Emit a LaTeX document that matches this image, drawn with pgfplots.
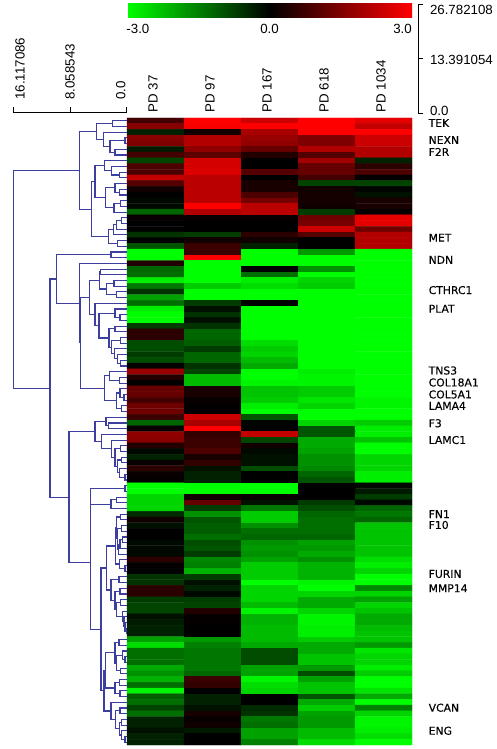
\documentclass[border=0pt]{standalone}
\usepackage{pgfplots}
\pgfplotsset{compat=1.18}
\usepackage{fontspec}
\setmainfont{Liberation Sans}
\newfontfamily\genefont[FakeBold=0.25]{DejaVu Sans}
\definecolor{den}{RGB}{60,62,160}
\pgfplotsset{colormap={gkr}{rgb255=(0,255,0) rgb255=(0,0,0) rgb255=(255,0,0)}}
\begin{document}
\begin{tikzpicture}[x=1pt,y=1pt]
\path[use as bounding box] (0,0) rectangle (496,749);
% heat map with its colour bar
\begin{axis}[at={(127pt,631pt)},anchor=north west,scale only axis,width=285pt,height=627pt,
 xmin=-0.5,xmax=4.5,ymin=0.5,ymax=110.5,y dir=reverse,clip=false,
 colormap name=gkr,point meta min=-3,point meta max=3,
 axis line style={draw=none},major tick length=0pt,
 xtick={0,1,2,3,4},xticklabels={PD 37,PD 97,PD 167,PD 618,PD 1034},xticklabel pos=top,
 xticklabel style={rotate=90,anchor=west,inner sep=0pt,font=\fontsize{13.3}{14}\selectfont,xshift=5.5pt,yshift=2.5pt},
 ytick={1.38,4.36,6.46,21.5,25.4,30.7,33.96,44.8,46.9,49.0,51.0,54.06,57,70,71.9,80.5,83,103.96,108},
 yticklabels={TEK,NEXN,F2R,MET,NDN,CTHRC1,PLAT,TNS3,COL18A1,COL5A1,LAMA4,F3,LAMC1,FN1,F10,FURIN,MMP14,VCAN,ENG},
 yticklabel pos=right,
 yticklabel style={anchor=west,inner sep=0pt,font=\genefont\fontsize{10.8}{12}\selectfont,xshift=16.5pt},
 colorbar horizontal,
 colorbar style={at={(0,1.16)},anchor=south west,scale only axis,width=285pt,height=15pt,
  axis line style={draw=none},major tick length=0pt,xtick={-2.77,0,2.8},xticklabels={-3.0,0.0,3.0},
  xticklabel style={rotate=0,anchor=north,font=\fontsize{13.3}{14}\selectfont,inner sep=0pt,xshift=0pt,yshift=-6pt}},
]
\addplot[matrix plot*,mesh/cols=5,point meta=explicit] coordinates {
(0,1)[0.8] (1,1)[3] (2,1)[2.4] (3,1)[3] (4,1)[2.7]
(0,2)[1.6] (1,2)[2.9] (2,2)[3] (3,2)[3] (4,2)[2.3]
(0,3)[-0.4] (1,3)[0.2] (2,3)[2.0] (3,3)[3] (4,3)[3]
(0,4)[1.6] (1,4)[2.1] (2,4)[1.8] (3,4)[1.5] (4,4)[2.4]
(0,5)[1.5] (1,5)[2.1] (2,5)[1.7] (3,5)[1.5] (4,5)[2.4]
(0,6)[-0.3] (1,6)[1.7] (2,6)[1.2] (3,6)[2.1] (4,6)[2.1]
(0,7)[0.8] (1,7)[1.1] (2,7)[0.4] (3,7)[1.0] (4,7)[2.1]
(0,8)[-0.8] (1,8)[2.5] (2,8)[0] (3,8)[1.9] (4,8)[-0.4]
(0,9)[0.9] (1,9)[2.5] (2,9)[0] (3,9)[1.2] (4,9)[0.5]
(0,10)[0.9] (1,10)[2.6] (2,10)[1.0] (3,10)[1.2] (4,10)[0.9]
(0,11)[2.3] (1,11)[2.2] (2,11)[0] (3,11)[0.8] (4,11)[0.05]
(0,12)[1.0] (1,12)[2.2] (2,12)[0.3] (3,12)[-0.8] (4,12)[-0.8]
(0,13)[0.2] (1,13)[2.2] (2,13)[0.3] (3,13)[0.2] (4,13)[-0.05]
(0,14)[0] (1,14)[2.2] (2,14)[0.9] (3,14)[0.25] (4,14)[-0.2]
(0,15)[-0.1] (1,15)[2.2] (2,15)[1.4] (3,15)[0.25] (4,15)[0.3]
(0,16)[-0.1] (1,16)[3.0] (2,16)[2.2] (3,16)[0.2] (4,16)[0.3]
(0,17)[-1.2] (1,17)[2.1] (2,17)[2.2] (3,17)[-0.7] (4,17)[0.05]
(0,18)[0.1] (1,18)[0.1] (2,18)[0.1] (3,18)[1.3] (4,18)[2.7]
(0,19)[0] (1,19)[0] (2,19)[0] (3,19)[1.4] (4,19)[2.7]
(0,20)[0] (1,20)[0] (2,20)[0] (3,20)[2.4] (4,20)[1.3]
(0,21)[-0.6] (1,21)[-0.7] (2,21)[0.5] (3,21)[1.0] (4,21)[2.1]
(0,22)[0] (1,22)[0.2] (2,22)[0.2] (3,22)[0] (4,22)[2.1]
(0,23)[-1] (1,23)[0.7] (2,23)[-0.4] (3,23)[0] (4,23)[2.1]
(0,24)[-3] (1,24)[0.7] (2,24)[-3] (3,24)[-1.8] (4,24)[-3]
(0,25)[-3] (1,25)[3] (2,25)[-3] (3,25)[-3] (4,25)[-3]
(0,26)[0.4] (1,26)[-3] (2,26)[-3] (3,26)[-3] (4,26)[-3]
(0,27)[-1.2] (1,27)[-3] (2,27)[0] (3,27)[-1.7] (4,27)[-3]
(0,28)[-1.3] (1,28)[-3] (2,28)[-1.3] (3,28)[-3] (4,28)[-3]
(0,29)[-2.8] (1,29)[-3] (2,29)[-2.8] (3,29)[-2.5] (4,29)[-3]
(0,30)[-1.4] (1,30)[-2.4] (2,30)[-2.6] (3,30)[-2.4] (4,30)[-3]
(0,31)[-0.6] (1,31)[-3] (2,31)[-3] (3,31)[-3] (4,31)[-3]
(0,32)[-1.9] (1,32)[-3] (2,32)[-3] (3,32)[-3] (4,32)[-3]
(0,33)[-1.3] (1,33)[-0.7] (2,33)[0] (3,33)[-3] (4,33)[-3]
(0,34)[-2.8] (1,34)[-0.2] (2,34)[-3] (3,34)[-3] (4,34)[-3]
(0,35)[-3] (1,35)[-0.6] (2,35)[-3] (3,35)[-3] (4,35)[-3]
(0,36)[-3] (1,36)[-0.2] (2,36)[-3] (3,36)[-3] (4,36)[-3]
(0,37)[-0.7] (1,37)[-0.6] (2,37)[-3] (3,37)[-3] (4,37)[-3]
(0,38)[0.5] (1,38)[-1.2] (2,38)[-3] (3,38)[-3] (4,38)[-3]
(0,39)[0.5] (1,39)[-1.2] (2,39)[-3] (3,39)[-3] (4,39)[-3]
(0,40)[-0.9] (1,40)[-1.1] (2,40)[-2.6] (3,40)[-3] (4,40)[-3]
(0,41)[-0.9] (1,41)[-0.7] (2,41)[-2.4] (3,41)[-3] (4,41)[-3]
(0,42)[-0.7] (1,42)[-1.2] (2,42)[-2.5] (3,42)[-3] (4,42)[-3]
(0,43)[-0.9] (1,43)[-1.2] (2,43)[-2.2] (3,43)[-3] (4,43)[-3]
(0,44)[0] (1,44)[-0.6] (2,44)[-2.0] (3,44)[-3] (4,44)[-3]
(0,45)[1.8] (1,45)[-0.8] (2,45)[-3] (3,45)[-2.8] (4,45)[-3]
(0,46)[0.4] (1,46)[-2.2] (2,46)[-3] (3,46)[-2.9] (4,46)[-3]
(0,47)[0] (1,47)[-2.2] (2,47)[-2.9] (3,47)[-2.9] (4,47)[-3]
(0,48)[1.2] (1,48)[0.3] (2,48)[-2.3] (3,48)[-2.4] (4,48)[-3]
(0,49)[1.2] (1,49)[0.3] (2,49)[-2.3] (3,49)[-2.4] (4,49)[-3]
(0,50)[0.8] (1,50)[0.1] (2,50)[-2.4] (3,50)[-2.7] (4,50)[-2.9]
(0,51)[1.3] (1,51)[0.05] (2,51)[-2.8] (3,51)[-2.5] (4,51)[-2.9]
(0,52)[1.3] (1,52)[0.05] (2,52)[-3] (3,52)[-3] (4,52)[-3]
(0,53)[0.7] (1,53)[2.4] (2,53)[-1] (3,53)[-3] (4,53)[-3]
(0,54)[-1.2] (1,54)[2.0] (2,54)[-0.05] (3,54)[-2.5] (4,54)[-2.4]
(0,55)[0.1] (1,55)[3] (2,55)[0] (3,55)[-1] (4,55)[-2.8]
(0,56)[1.7] (1,56)[0.6] (2,56)[2.3] (3,56)[-1] (4,56)[-2.8]
(0,57)[1.6] (1,57)[0.7] (2,57)[-0.8] (3,57)[-2] (4,57)[-2.3]
(0,58)[0.4] (1,58)[0.7] (2,58)[0.2] (3,58)[-2] (4,58)[-3]
(0,59)[-0.1] (1,59)[0.9] (2,59)[-0.1] (3,59)[-1.9] (4,59)[-3]
(0,60)[-0.4] (1,60)[0.3] (2,60)[-0.2] (3,60)[-1.7] (4,60)[-2.5]
(0,61)[0.1] (1,61)[0.6] (2,61)[-0.2] (3,61)[-1.7] (4,61)[-2.5]
(0,62)[0.5] (1,62)[-0.2] (2,62)[-0.9] (3,62)[-1.6] (4,62)[-2.5]
(0,63)[0.1] (1,63)[-0.4] (2,63)[0] (3,63)[-1.2] (4,63)[-2.8]
(0,64)[0.05] (1,64)[-0.4] (2,64)[0] (3,64)[-1] (4,64)[-2.8]
(0,65)[-3] (1,65)[-3] (2,65)[-3] (3,65)[0] (4,65)[-0.1]
(0,66)[-3] (1,66)[-3] (2,66)[-3] (3,66)[0] (4,66)[-0.3]
(0,67)[-2.5] (1,67)[0.2] (2,67)[0.1] (3,67)[0] (4,67)[-0.7]
(0,68)[-2.5] (1,68)[1.2] (2,68)[-0.2] (3,68)[-0.7] (4,68)[-0.1]
(0,69)[-2.5] (1,69)[-0.7] (2,69)[-1.4] (3,69)[-0.9] (4,69)[-1.2]
(0,70)[-0.5] (1,70)[-1.7] (2,70)[-2.4] (3,70)[-1.2] (4,70)[-1.4]
(0,71)[0.2] (1,71)[-1] (2,71)[-2.4] (3,71)[-1.3] (4,71)[-1.2]
(0,72)[-0.2] (1,72)[-1.1] (2,72)[-1.7] (3,72)[-1.3] (4,72)[-2.3]
(0,73)[0] (1,73)[-1.1] (2,73)[-1.3] (3,73)[-1.3] (4,73)[-2.3]
(0,74)[0] (1,74)[-1.3] (2,74)[-1.2] (3,74)[-1.2] (4,74)[-2.3]
(0,75)[-0.1] (1,75)[-0.9] (2,75)[-1.7] (3,75)[-1.9] (4,75)[-2.3]
(0,76)[-0.1] (1,76)[-1] (2,76)[-1.8] (3,76)[-1.8] (4,76)[-2.3]
(0,77)[-0.1] (1,77)[-0.7] (2,77)[-1.7] (3,77)[-2] (4,77)[-2.3]
(0,78)[0.5] (1,78)[-1.6] (2,78)[-1.9] (3,78)[-1.7] (4,78)[-2.6]
(0,79)[0.05] (1,79)[-1.5] (2,79)[-2.4] (3,79)[-2.1] (4,79)[-2.8]
(0,80)[0] (1,80)[-2.1] (2,80)[-2.4] (3,80)[-2.1] (4,80)[-2.5]
(0,81)[-0.6] (1,81)[-0.7] (2,81)[-2.4] (3,81)[-2.1] (4,81)[-3]
(0,82)[-0.6] (1,82)[-0.2] (2,82)[-3] (3,82)[-2.9] (4,82)[-3]
(0,83)[0.5] (1,83)[-0.4] (2,83)[-2.5] (3,83)[-3] (4,83)[-1.6]
(0,84)[0.5] (1,84)[-0.1] (2,84)[-2.5] (3,84)[-2.5] (4,84)[-2.5]
(0,85)[-0.7] (1,85)[-0.7] (2,85)[-2.5] (3,85)[-2] (4,85)[-1.9]
(0,86)[-0.8] (1,86)[-0.8] (2,86)[-2.2] (3,86)[-2] (4,86)[-2.5]
(0,87)[-0.8] (1,87)[0.4] (2,87)[-2.9] (3,87)[-2.5] (4,87)[-2.3]
(0,88)[-0.2] (1,88)[0.05] (2,88)[-2.1] (3,88)[-2.9] (4,88)[-2]
(0,89)[-0.3] (1,89)[0.05] (2,89)[-2.1] (3,89)[-2.9] (4,89)[-2]
(0,90)[-0.4] (1,90)[0] (2,90)[-2.2] (3,90)[-2.8] (4,90)[-2.2]
(0,91)[-0.4] (1,91)[0] (2,91)[-2.2] (3,91)[-2.8] (4,91)[-2.3]
(0,92)[-1.9] (1,92)[-1.8] (2,92)[-2.2] (3,92)[-2.4] (4,92)[-2.3]
(0,93)[-2.6] (1,93)[-1.5] (2,93)[-2] (3,93)[-2] (4,93)[-1.8]
(0,94)[-1.3] (1,94)[-1.4] (2,94)[-0.9] (3,94)[-2] (4,94)[-2.7]
(0,95)[-1.3] (1,95)[-1.4] (2,95)[-0.9] (3,95)[-2.3] (4,95)[-2.5]
(0,96)[-1.3] (1,96)[-1.4] (2,96)[-0.9] (3,96)[-2.3] (4,96)[-2.5]
(0,97)[-2] (1,97)[-1.4] (2,97)[-1.9] (3,97)[-1.8] (4,97)[-2.8]
(0,98)[-1.7] (1,98)[-1.2] (2,98)[-1.9] (3,98)[-0.9] (4,98)[-2.4]
(0,99)[-2.1] (1,99)[0.7] (2,99)[-2.9] (3,99)[-1.9] (4,99)[-3]
(0,100)[-1.3] (1,100)[0.6] (2,100)[-2.6] (3,100)[-2.3] (4,100)[-3]
(0,101)[-2.9] (1,101)[0] (2,101)[-2.5] (3,101)[-2.3] (4,101)[-2.7]
(0,102)[-1.1] (1,102)[-0.4] (2,102)[0] (3,102)[-1] (4,102)[-2]
(0,103)[-1.3] (1,103)[-0.4] (2,103)[0] (3,103)[-2] (4,103)[-3]
(0,104)[-0.8] (1,104)[-0.2] (2,104)[-0.5] (3,104)[-2.4] (4,104)[-1.5]
(0,105)[-1.3] (1,105)[0.3] (2,105)[-0.6] (3,105)[-1.9] (4,105)[-2.5]
(0,106)[-0.4] (1,106)[0.1] (2,106)[-1.4] (3,106)[-1.8] (4,106)[-2.9]
(0,107)[-0.4] (1,107)[0.2] (2,107)[-1.3] (3,107)[-1.8] (4,107)[-2.9]
(0,108)[-0.2] (1,108)[-0.3] (2,108)[-1.9] (3,108)[-2.2] (4,108)[-2.8]
(0,109)[-0.4] (1,109)[0] (2,109)[-1.9] (3,109)[-2.2] (4,109)[-2.6]
(0,110)[-0.4] (1,110)[0] (2,110)[-1.5] (3,110)[-2.6] (4,110)[-3]
};
\end{axis}
% row dendrogram
\begin{axis}[at={(13.3pt,4pt)},anchor=south west,scale only axis,width=113.4pt,height=632.3pt,
 xmin=0,xmax=16.117086,ymin=-0.43,ymax=110.5,x dir=reverse,y dir=reverse,clip=false,
 axis x line*=top,axis y line=none,tick align=outside,major tick length=5.5pt,
 unbounded coords=jump,
 xtick={0,8.058543,16.117086},xticklabels={,,},
 extra x ticks={15.16,8.06,0.85},extra x tick labels={16.117086,8.058543,0.0},
 extra x tick style={major tick length=0pt,xticklabel style={rotate=90,anchor=west,inner sep=0pt,font=\fontsize{13.3}{14}\selectfont,xshift=13pt}},
 axis line style={black,line width=0.9pt},tick style={black,line width=0.9pt},
]
\addplot[den,line width=1.1pt,no marks] coordinates {
(0,1)(2.04,1)(2.04,2)(0,2)(nan,nan)
(0,4)(.24,4)(.24,5)(0,5)(nan,nan)
(0,6)(1.66,6)(1.66,7)(0,7)(nan,nan)
(.24,4.5)(2.37,4.5)(2.37,6.5)(1.66,6.5)(nan,nan)
(0,3)(3.32,3)(3.32,5.5)(2.37,5.5)(nan,nan)
(2.04,1.5)(4.26,1.5)(4.26,4.25)(3.32,4.25)(nan,nan)
(0,10)(1.04,10)(1.04,11)(0,11)(nan,nan)
(0,9)(2.13,9)(2.13,10.5)(1.04,10.5)(nan,nan)
(0,8)(3.17,8)(3.17,9.75)(2.13,9.75)(nan,nan)
(0,13)(1.04,13)(1.04,14)(0,14)(nan,nan)
(0,12)(1.66,12)(1.66,13.5)(1.04,13.5)(nan,nan)
(0,15)(.85,15)(.85,16)(0,16)(nan,nan)
(.85,15.5)(1.80,15.5)(1.80,17)(0,17)(nan,nan)
(1.66,12.75)(3.03,12.75)(3.03,16.25)(1.80,16.25)(nan,nan)
(3.17,8.875)(4.50,8.875)(4.50,14.5)(3.03,14.5)(nan,nan)
(0,18)(.71,18)(.71,19)(0,19)(nan,nan)
(.71,18.5)(1.42,18.5)(1.42,20)(0,20)(nan,nan)
(1.42,19.25)(1.90,19.25)(1.90,21)(0,21)(nan,nan)
(0,22)(1.33,22)(1.33,23)(0,23)(nan,nan)
(1.90,20.125)(2.61,20.125)(2.61,22.5)(1.33,22.5)(nan,nan)
(4.50,11.69)(4.97,11.69)(4.97,21.31)(2.61,21.31)(nan,nan)
(4.26,2.875)(6.73,2.875)(6.73,16.5)(4.97,16.5)(nan,nan)
(0,24)(2.23,24)(2.23,25)(0,25)(nan,nan)
(0,27)(3.70,27)(3.70,28)(0,28)(nan,nan)
(0,29)(1.80,29)(1.80,30)(0,30)(nan,nan)
(0,31)(1.42,31)(1.42,32)(0,32)(nan,nan)
(1.80,29.5)(2.84,29.5)(2.84,31.5)(1.42,31.5)(nan,nan)
(3.70,27.5)(3.89,27.5)(3.89,30.5)(2.84,30.5)(nan,nan)
(0,35)(.95,35)(.95,36)(0,36)(nan,nan)
(0,34)(1.66,34)(1.66,35.5)(.95,35.5)(nan,nan)
(0,37)(1.66,37)(1.66,38)(0,38)(nan,nan)
(0,39)(.85,39)(.85,40)(0,40)(nan,nan)
(0,43)(.85,43)(.85,44)(0,44)(nan,nan)
(0,42)(1.33,42)(1.33,43.5)(.85,43.5)(nan,nan)
(0,41)(1.75,41)(1.75,42.75)(1.33,42.75)(nan,nan)
(.85,39.5)(2.13,39.5)(2.13,41.875)(1.75,41.875)(nan,nan)
(1.66,37.5)(2.51,37.5)(2.51,40.69)(2.13,40.69)(nan,nan)
(1.66,34.75)(3.93,34.75)(3.93,39.09)(2.51,39.09)(nan,nan)
(0,33)(4.50,33)(4.50,36.92)(3.93,36.92)(nan,nan)
(3.89,29)(5.31,29)(5.31,34.96)(4.50,34.96)(nan,nan)
(0,46)(1.04,46)(1.04,47)(0,47)(nan,nan)
(0,45)(2.46,45)(2.46,46.5)(1.04,46.5)(nan,nan)
(0,49)(.38,49)(.38,50)(0,50)(nan,nan)
(0,48)(.95,48)(.95,49.5)(.38,49.5)(nan,nan)
(0,51)(.71,51)(.71,52)(0,52)(nan,nan)
(.95,48.75)(1.42,48.75)(1.42,51.5)(.71,51.5)(nan,nan)
(2.46,45.75)(3.17,45.75)(3.17,50.125)(1.42,50.125)(nan,nan)
(5.31,31.98)(6.54,31.98)(6.54,47.94)(3.17,47.94)(nan,nan)
(0,26)(6.73,26)(6.73,39.96)(6.54,39.96)(nan,nan)
(2.23,24.5)(9.95,24.5)(9.95,32.98)(6.73,32.98)(nan,nan)
(0,54)(2.61,54)(2.61,55)(0,55)(nan,nan)
(0,53)(2.94,53)(2.94,54.5)(2.61,54.5)(nan,nan)
(0,58)(.85,58)(.85,59)(0,59)(nan,nan)
(0,60)(.71,60)(.71,61)(0,61)(nan,nan)
(0,63)(.24,63)(.24,64)(0,64)(nan,nan)
(0,62)(1.04,62)(1.04,63.5)(.24,63.5)(nan,nan)
(.71,60.5)(1.33,60.5)(1.33,62.75)(1.04,62.75)(nan,nan)
(.85,58.5)(1.66,58.5)(1.66,61.625)(1.33,61.625)(nan,nan)
(0,57)(2.13,57)(2.13,60.06)(1.66,60.06)(nan,nan)
(0,56)(3.55,56)(3.55,58.53)(2.13,58.53)(nan,nan)
(2.94,53.75)(4.50,53.75)(4.50,57.27)(3.55,57.27)(nan,nan)
(0,65)(.24,65)(.24,66)(0,66)(nan,nan)
(0,67)(1.42,67)(1.42,68)(0,68)(nan,nan)
(1.42,67.5)(2.23,67.5)(2.23,69)(0,69)(nan,nan)
(.24,65.5)(5.12,65.5)(5.12,68.25)(2.23,68.25)(nan,nan)
(0,70)(.85,70)(.85,71)(0,71)(nan,nan)
(0,72)(.71,72)(.71,73)(0,73)(nan,nan)
(0,74)(.57,74)(.57,75)(0,75)(nan,nan)
(.57,74.5)(.95,74.5)(.95,76)(0,76)(nan,nan)
(.95,75.25)(1.18,75.25)(1.18,77)(0,77)(nan,nan)
(.71,72.5)(1.33,72.5)(1.33,76.125)(1.18,76.125)(nan,nan)
(.85,70.5)(1.47,70.5)(1.47,74.31)(1.33,74.31)(nan,nan)
(0,79)(.24,79)(.24,80)(0,80)(nan,nan)
(0,78)(1.04,78)(1.04,79.5)(.24,79.5)(nan,nan)
(1.47,72.41)(1.56,72.41)(1.56,78.75)(1.04,78.75)(nan,nan)
(0,81)(1.09,81)(1.09,82)(0,82)(nan,nan)
(0,83)(.95,83)(.95,84)(0,84)(nan,nan)
(0,85)(.85,85)(.85,86)(0,86)(nan,nan)
(0,90)(.09,90)(.09,91)(0,91)(nan,nan)
(0,89)(.24,89)(.24,90.5)(.09,90.5)(nan,nan)
(0,88)(.38,88)(.38,89.75)(.24,89.75)(nan,nan)
(0,87)(.57,87)(.57,88.875)(.38,88.875)(nan,nan)
(.85,85.5)(1.42,85.5)(1.42,87.94)(.57,87.94)(nan,nan)
(.95,83.5)(1.66,83.5)(1.66,86.72)(1.42,86.72)(nan,nan)
(1.09,81.5)(2.23,81.5)(2.23,85.11)(1.66,85.11)(nan,nan)
(1.56,75.58)(2.84,75.58)(2.84,83.3)(2.23,83.3)(nan,nan)
(0,92)(1.09,92)(1.09,93)(0,93)(nan,nan)
(0,95)(.24,95)(.24,96)(0,96)(nan,nan)
(0,94)(.62,94)(.62,95.5)(.24,95.5)(nan,nan)
(0,97)(.85,97)(.85,98)(0,98)(nan,nan)
(.62,94.75)(1.42,94.75)(1.42,97.5)(.85,97.5)(nan,nan)
(1.09,92.5)(1.66,92.5)(1.66,96.125)(1.42,96.125)(nan,nan)
(0,99)(1.04,99)(1.04,100)(0,100)(nan,nan)
(0,101)(.95,101)(.95,102)(0,102)(nan,nan)
(1.04,99.5)(1.66,99.5)(1.66,101.5)(.95,101.5)(nan,nan)
(1.66,94.31)(3.03,94.31)(3.03,100.5)(1.66,100.5)(nan,nan)
(0,104)(.95,104)(.95,105)(0,105)(nan,nan)
(0,106)(.71,106)(.71,107)(0,107)(nan,nan)
(0,109)(.24,109)(.24,110)(0,110)(nan,nan)
(0,108)(.71,108)(.71,109.5)(.24,109.5)(nan,nan)
(.71,106.5)(1.04,106.5)(1.04,108.75)(.71,108.75)(nan,nan)
(.95,104.5)(1.56,104.5)(1.56,107.63)(1.04,107.63)(nan,nan)
(0,103)(2.23,103)(2.23,106.06)(1.56,106.06)(nan,nan)
(3.03,97.41)(3.22,97.41)(3.22,104.53)(2.23,104.53)(nan,nan)
(2.84,79.44)(3.65,79.44)(3.65,100.97)(3.22,100.97)(nan,nan)
(.24,65.5)(5.12,65.5)(nan,nan)
(5.12,66.875)(5.12,90.2)(3.65,90.2)(nan,nan)
(4.50,55.51)(8.20,55.51)(8.20,78.54)(5.12,78.54)(nan,nan)
(9.95,28.74)(10.90,28.74)(10.90,67.03)(8.20,67.03)(nan,nan)
(6.73,9.69)(16.11,9.69)(16.11,47.89)(10.90,47.89)
};
\end{axis}
% column scale at the right
\begin{axis}[at={(413.3pt,636pt)},anchor=south west,scale only axis,width=5pt,height=108.6pt,
 xmin=0,xmax=1,ymin=0,ymax=26.782108,clip=false,
 axis x line=none,axis y line*=right,tick align=outside,major tick length=5pt,
 ytick={0,13.391054,26.782108},yticklabels={,,},
 extra y ticks={0.4,13.1,25.47},extra y tick labels={0.0,13.391054,26.782108},
 extra y tick style={major tick length=0pt,yticklabel style={anchor=west,inner sep=0pt,font=\fontsize{13.3}{14}\selectfont,xshift=11.5pt}},
 axis line style={black,line width=0.9pt},tick style={black,line width=0.9pt},
]
\end{axis}
\end{tikzpicture}
\end{document}
